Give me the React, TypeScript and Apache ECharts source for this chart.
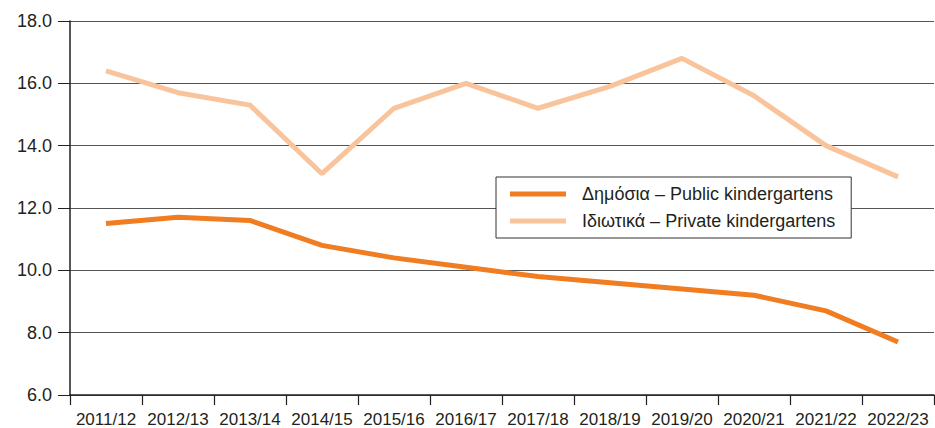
import React, { useEffect, useRef } from "react";
import * as echarts from "echarts";

const categories = ["2011/12", "2012/13", "2013/14", "2014/15", "2015/16", "2016/17", "2017/18", "2018/19", "2019/20", "2020/21", "2021/22", "2022/23"];
const publicValues = [11.5, 11.7, 11.6, 10.8, 10.4, 10.1, 9.8, 9.6, 9.4, 9.2, 8.7, 7.7];
const privateValues = [16.4, 15.7, 15.3, 13.1, 15.2, 16.0, 15.2, 15.9, 16.8, 15.6, 14.0, 13.0];
const seriesNames = ["Δημόσια – Public kindergartens", "Ιδιωτικά – Private kindergartens"];

export default function App() {
  const ref = useRef<HTMLDivElement>(null);
  useEffect(() => {
    if (!ref.current) return;
    const chart = echarts.init(ref.current, null, { renderer: "svg" });
    const font = "'Liberation Sans', Arial, Helvetica, sans-serif";
    chart.setOption({
      animation: false,
      backgroundColor: "#ffffff",
      textStyle: { fontFamily: font },
      grid: { left: 70, right: 1, top: 21, bottom: 33, containLabel: false },
      legend: {
        orient: "vertical",
        left: 496,
        top: 177,
        padding: [8, 16, 8, 14],
        itemGap: 9,
        itemWidth: 56,
        itemHeight: 5,
        icon: "rect",
        backgroundColor: "#ffffff",
        borderColor: "#333333",
        borderWidth: 1,
        textStyle: { fontSize: 18, lineHeight: 18, color: "#231f20", fontFamily: font, padding: [0, 0, 0, 11] },
        data: seriesNames,
      },
      xAxis: {
        type: "category",
        data: categories,
        boundaryGap: true,
        axisLine: { show: true, lineStyle: { color: "#231f20", width: 1.5 } },
        axisTick: { show: true, length: 10, lineStyle: { color: "#231f20", width: 1.2 } },
        axisLabel: { fontSize: 17, color: "#231f20", margin: 16, interval: 0, fontFamily: font },
        splitLine: { show: false },
      },
      yAxis: {
        type: "value",
        min: 6,
        max: 18,
        interval: 2,
        axisLine: { show: true, lineStyle: { color: "#231f20", width: 1.5 } },
        axisTick: { show: true, length: 12, lineStyle: { color: "#231f20" } },
        axisLabel: { fontSize: 18, color: "#231f20", margin: 18, formatter: (v: number) => v.toFixed(1), fontFamily: font },
        splitLine: { show: true, lineStyle: { color: "#555555", width: 1 } },
      },
      series: [
        {
          name: seriesNames[0],
          type: "line",
          data: publicValues,
          symbol: "none",
          lineStyle: { color: "#f07d22", width: 5 },
          itemStyle: { color: "#f07d22" },
          z: 3,
        },
        {
          name: seriesNames[1],
          type: "line",
          data: privateValues,
          symbol: "none",
          lineStyle: { color: "#f9c49b", width: 5 },
          itemStyle: { color: "#f9c49b" },
          z: 2,
        },
      ],
    });
    return () => chart.dispose();
  }, []);
  return <div ref={ref} style={{ position: "fixed", left: 0, top: 0, width: 935, height: 428 }} />;
}
